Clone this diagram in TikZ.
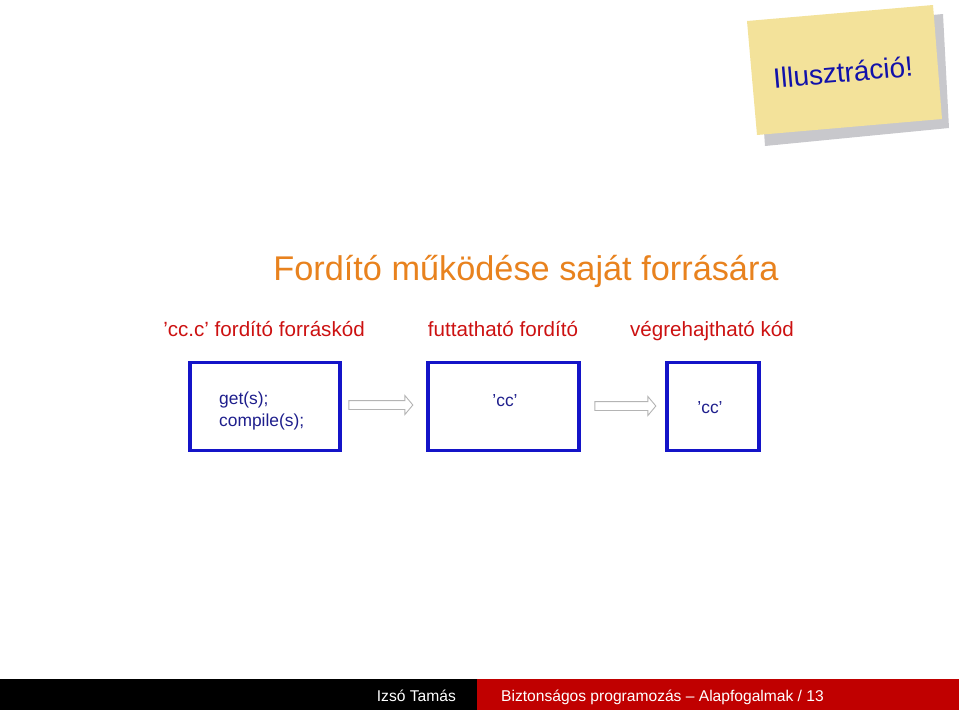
\documentclass[tikz,border=0pt]{standalone}
\usepackage{fontspec}
\setmainfont{Liberation Sans}
\usetikzlibrary{shapes.arrows}
\definecolor{titleor}{HTML}{E8821E}
\definecolor{labred}{HTML}{CC1111}
\definecolor{boxblue}{HTML}{1414C8}
\definecolor{txtblue}{HTML}{1E1E8C}
\definecolor{notey}{HTML}{F3E29A}
\definecolor{notesh}{HTML}{C8C8CC}
\definecolor{footred}{HTML}{C00000}
\definecolor{arrgray}{HTML}{B4B4B4}
\newcommand{\fs}[1]{\fontsize{#1pt}{#1pt}\selectfont}
\tikzset{
  framebox/.style={draw=boxblue, line width=3.2pt, minimum width=#1, minimum height=88pt, inner sep=0pt},
  lab/.style={text=labred, anchor=base, font=\fs{20.6}, inner sep=0pt},
  boxtxt/.style={text=txtblue, font=\fs{17.4}, inner sep=0pt},
  hollow/.style={single arrow, draw=arrgray, line width=0.9pt, fill=white, minimum height=#1,
    inner xsep=0pt, inner ysep=4pt, single arrow head extend=5pt, single arrow tip angle=100},
  foot/.style={text=white, anchor=base, font=\fs{15.6}, inner sep=0pt}
}
\begin{document}
\begin{tikzpicture}[x=1pt,y=-1pt]
\useasboundingbox (0,0) rectangle (959,710);
% sticky note
\fill[notesh] (757,31) -- (943,14) -- (949,128) -- (765,146) -- cycle;
\fill[notey] (747,21) -- (933,5) -- (942,119) -- (757,135) -- cycle;
\node[text=boxblue!85!black, font=\fs{28}, rotate=5] (note) at (843,72) {Illusztráció!};
% title
\node[text=titleor, anchor=base, font=\fs{34.3}] (title) at (526,280) {Fordító működése saját forrására};
% labels
\node[lab] (l1) at (264,336) {'cc.c' fordító forráskód};
\node[lab] (l2) at (503,336) {futtatható fordító};
\node[lab] (l3) at (712,336) {végrehajtható kód};
% boxes
\node[framebox=150pt] (b1) at (265,406.5) {};
\node[framebox=151pt] (b2) at (503.5,406.5) {};
\node[framebox=92pt] (b3) at (713,406.5) {};
\node[boxtxt, anchor=base west] (t1) at (219,404) {get(s);};
\node[boxtxt, anchor=base west] (t1b) at (219,426) {compile(s);};
\node[boxtxt, anchor=base] (t2) at (505,406) {'cc'};
\node[boxtxt, anchor=base] (t3) at (710,413) {'cc'};
% arrows
\node[hollow=64pt] (a1) at (379,405) {};
\node[hollow=61pt] (a2) at (623.5,406) {};
% footer
\fill[black] (0,679) rectangle (477,710);
\fill[footred] (477,679) rectangle (959,710);
\node[foot, anchor=base east] (f1) at (456,701) {Izsó Tamás};
\node[foot, anchor=base west] (f2) at (501,701) {Biztonságos programozás -- Alapfogalmak / 13};
\end{tikzpicture}
\end{document}
